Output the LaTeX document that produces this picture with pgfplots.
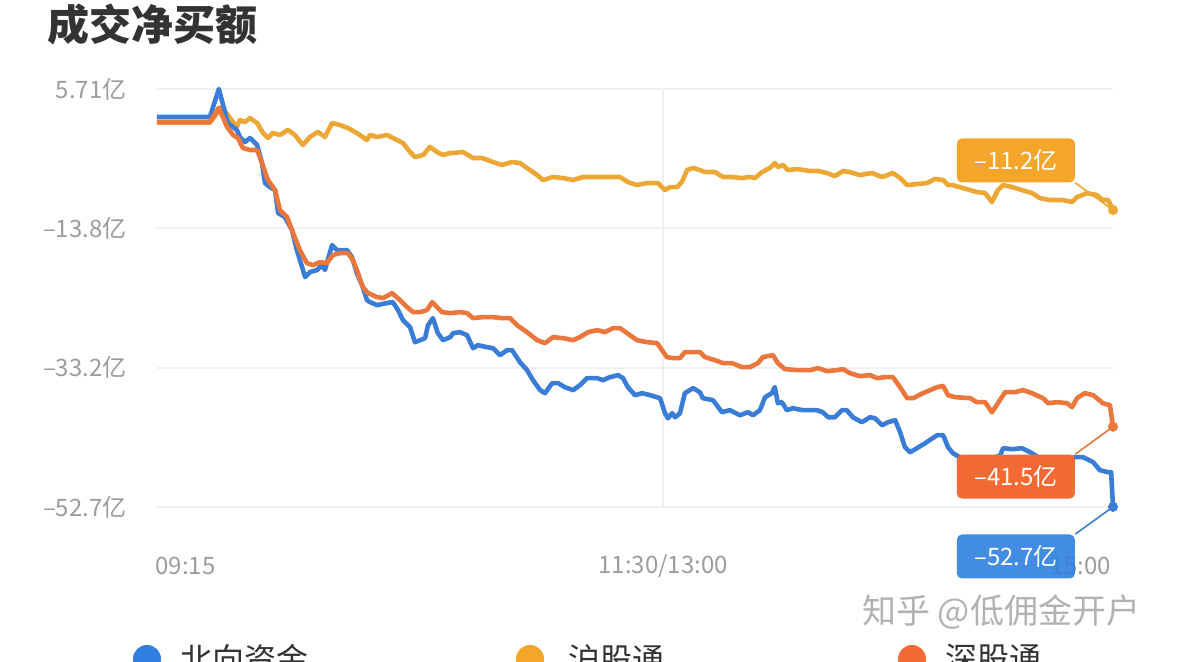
\documentclass[border=0pt]{standalone}
\usepackage{pgfplots}
\pgfplotsset{compat=1.18}
\usepackage{fontspec}
\setmainfont{Noto Sans CJK SC}

\definecolor{cblue}{HTML}{3A7DD6}
\definecolor{cgold}{HTML}{EDA735}
\definecolor{corange}{HTML}{EC773C}
\definecolor{bblue}{HTML}{2F7FE0}
\definecolor{bgold}{HTML}{F4A62A}
\definecolor{borange}{HTML}{F26B34}
\definecolor{tickgray}{HTML}{9C9C9C}
\definecolor{gridgray}{HTML}{F0F0F0}

\begin{document}
\begin{tikzpicture}
\useasboundingbox (0,0) rectangle (589.5pt,331pt);

% title
\node[anchor=west, inner sep=0pt, text=black!80, font=\fontsize{21}{21}\selectfont\bfseries]
  at (23.5pt,318.5pt) {成交净买额};

\begin{axis}[
    at={(78.5pt,77.5pt)}, anchor=south west,
    scale only axis,
    width=478pt, height=209pt,
    xmin=0, xmax=255,
    ymin=-52.72, ymax=5.71,
    clip=false,
    axis line style={draw=none},
    major tick length=0pt,
    ytick={5.71,-13.77,-33.24,-52.72},
    yticklabels={5.71亿,–13.8亿,–33.2亿,–52.7亿},
    yticklabel style={anchor=east, inner sep=0pt, xshift=-15pt, text=tickgray,
        font=\fontsize{12}{12}\selectfont},
    xtick={135}, xticklabels={},
    ymajorgrids, xmajorgrids,
    grid style={color=gridgray, line width=1pt},
]
% 沪股通
\addplot[cgold, line width=2.3pt, line join=round] coordinates {
(0,1.0) (14.1,1.0) (17.3,3.19) (19.5,1.65) (21.3,0.40) (22.1,1.37) (23.5,1.09)
(24.8,1.65) (26.7,0.95) (28.3,-0.44) (29.6,-1.14) (30.9,-0.44) (32.8,-0.72)
(34.9,-0.02) (36.8,-0.72) (38.9,-2.12) (40.8,-1.00) (42.9,-0.30) (44.8,-1.00)
(46.7,0.95) (48.8,0.67) (50.9,0.26) (53.3,-0.44) (56.0,-1.42) (56.8,-0.72)
(58.7,-1.00) (61.3,-0.72) (64.0,-1.42) (65.6,-1.84) (67.5,-3.10) (68.8,-3.80)
(71.0,-3.52) (72.8,-2.40) (74.7,-3.10) (76.3,-3.52) (78.2,-3.24) (79.0,-3.24)
(81.6,-3.10) (84.3,-3.94) (86.7,-3.94) (89.6,-4.50) (92.0,-4.92) (94.7,-4.50)
(96.8,-4.64) (99.5,-5.62) (101.4,-6.32) (103.0,-7.02) (105.6,-6.60) (108.3,-6.74)
(111.0,-7.02) (113.6,-6.60) (117.4,-6.60) (120.8,-6.60) (123.5,-6.60) (125.6,-7.30)
(128.0,-7.72) (130.7,-7.44) (133.6,-7.44) (135.5,-8.42) (136.8,-8.00) (138.7,-8.00)
(140.0,-7.30) (141.4,-5.62) (143.0,-5.34) (144.8,-5.62) (146.2,-5.90) (148.8,-5.90)
(151.0,-6.60) (153.4,-6.60) (156.0,-6.74) (158.2,-6.60) (159.5,-6.74) (161.4,-5.90)
(163.5,-5.34) (164.8,-4.64) (165.6,-5.20) (167.0,-4.92) (168.3,-5.62) (170.7,-5.48)
(174.2,-5.76) (176.3,-5.76) (178.7,-6.04) (180.8,-6.46) (183.0,-5.76) (184.8,-5.90)
(187.5,-6.32) (190.7,-6.04) (193.4,-6.60) (196.3,-6.04) (198.2,-6.74) (200.1,-7.72)
(202.7,-7.58) (205.4,-7.44) (207.5,-6.88) (209.7,-7.02) (211.0,-7.72) (212.1,-7.72)
(215.0,-8.14) (218.7,-8.70) (220.9,-8.84) (222.7,-10.09) (224.3,-8.42) (225.7,-7.72)
(228.1,-8.00) (230.7,-8.42) (233.4,-8.84) (235.5,-9.54) (238.2,-9.81) (241.4,-9.81)
(244.1,-10.09) (245.4,-9.40) (248.1,-8.84) (250.7,-9.12) (252.3,-9.81) (253.7,-9.81)
(255,-11.2)
};
% 北向资金
\addplot[cblue, line width=2.3pt, line join=round] coordinates {
(0,1.79) (14.1,1.79) (16.5,5.71) (18.9,0.95) (21.3,-0.02) (22.1,-1.00) (23.5,-1.70)
(24.8,-1.14) (26.7,-2.12) (28.0,-4.64) (28.8,-7.44) (30.1,-8.00) (31.5,-8.42)
(32.3,-11.63) (34.1,-12.19) (36.0,-14.01) (37.3,-16.81) (38.7,-19.19) (39.5,-20.58)
(40.8,-19.88) (42.7,-19.60) (44.0,-18.91) (44.8,-19.60) (46.7,-16.11) (48.0,-16.81)
(50.7,-16.81) (52.0,-17.79) (53.3,-20.02) (54.9,-21.98) (56.0,-23.80) (56.8,-24.08)
(58.7,-24.50) (61.3,-24.22) (62.9,-24.08) (64.3,-25.20) (65.6,-26.60) (67.5,-27.58)
(68.8,-29.68) (70.2,-29.40) (71.5,-29.12) (72.3,-27.30) (73.6,-26.32) (74.9,-28.42)
(76.3,-29.40) (78.2,-28.98) (79.0,-28.42) (80.8,-28.28) (82.7,-28.70) (84.3,-30.52)
(85.6,-30.10) (88.0,-30.38) (89.6,-30.52) (91.5,-31.49) (93.4,-30.79) (94.7,-30.79)
(96.8,-32.47) (98.7,-33.59) (100.3,-34.99) (102.2,-36.39) (103.5,-36.81) (105.4,-35.41)
(107.0,-35.41) (108.8,-35.97) (111.0,-36.39) (112.8,-35.69) (114.7,-34.71) (117.4,-34.71)
(119.0,-34.99) (120.8,-34.57) (123.0,-34.29) (124.3,-34.71) (125.6,-35.97) (127.5,-37.09)
(129.4,-36.81) (131.5,-37.09) (134.2,-37.51) (135.5,-39.61) (136.3,-40.31) (137.4,-39.61)
(138.2,-40.17) (139.5,-39.61) (140.8,-36.81) (143.0,-36.11) (144.8,-36.67) (145.6,-37.51)
(148.3,-37.79) (150.7,-39.47) (152.8,-39.19) (155.5,-39.89) (157.6,-39.47) (159.0,-39.89)
(160.8,-39.19) (162.2,-37.37) (164.0,-36.81) (164.8,-35.97) (165.6,-38.21) (166.7,-38.07)
(168.0,-39.19) (169.6,-38.91) (172.3,-39.19) (176.0,-39.19) (177.6,-39.47) (179.0,-40.17)
(180.8,-40.17) (182.7,-39.19) (184.0,-39.19) (185.6,-40.17) (188.0,-40.87) (190.2,-40.17)
(191.5,-40.31) (193.4,-41.29) (195.0,-40.87) (196.9,-40.59) (198.2,-42.26) (199.5,-44.36)
(200.9,-45.06) (202.7,-44.50) (204.9,-43.80) (208.1,-42.68) (209.7,-42.68) (211.0,-44.36)
(212.3,-45.20) (215.5,-46.20) (220.0,-46.50) (224.9,-45.50) (225.7,-44.50) (228.1,-44.64)
(230.7,-44.50) (232.9,-45.06) (235.5,-45.90) (240.1,-46.20) (244.9,-45.76) (247.0,-45.76)
(249.7,-46.46) (251.5,-47.58) (253.7,-47.86) (254.5,-47.86) (255,-52.7)
};
% 深股通
\addplot[corange, line width=2.3pt, line join=round] coordinates {
(0,1.09) (14.1,1.09) (16.5,3.10) (18.7,0.40) (20.3,-0.72) (21.6,-1.14) (22.9,-2.54)
(24.8,-2.82) (26.7,-2.82) (28.0,-4.64) (29.6,-7.02) (31.5,-8.42) (32.8,-11.21)
(34.7,-12.19) (36.3,-14.43) (38.1,-16.81) (40.0,-18.63) (41.6,-18.91) (43.5,-18.49)
(45.3,-18.63) (46.9,-17.51) (48.8,-17.23) (50.9,-17.23) (52.3,-18.21) (53.6,-20.02)
(54.9,-21.98) (56.3,-22.82) (58.7,-23.38) (60.3,-23.52) (62.7,-22.82) (64.8,-23.80)
(66.7,-24.78) (68.3,-25.48) (70.2,-25.48) (72.0,-25.20) (73.4,-24.08) (74.7,-24.78)
(76.0,-25.48) (78.2,-25.62) (80.8,-25.48) (82.7,-25.62) (84.3,-26.32) (87.0,-26.18)
(89.6,-26.18) (92.0,-26.32) (94.2,-26.32) (96.0,-27.30) (98.7,-28.28) (101.4,-29.40)
(103.5,-29.82) (105.6,-28.98) (108.3,-29.12) (111.0,-29.40) (112.8,-28.98) (115.0,-28.28)
(117.4,-28.00) (119.5,-28.28) (121.6,-27.72) (123.5,-27.72) (125.4,-28.42) (128.0,-29.40)
(130.7,-29.68) (133.4,-29.82) (134.7,-30.79) (136.0,-31.77) (137.6,-31.91) (139.5,-31.91)
(140.8,-31.07) (143.0,-31.07) (144.8,-31.07) (146.2,-31.77) (148.8,-32.19) (151.0,-32.61)
(153.4,-32.61) (156.0,-33.17) (158.2,-33.17) (160.3,-32.61) (161.6,-31.77) (164.3,-31.49)
(165.6,-32.61) (167.5,-33.45) (170.7,-33.59) (174.2,-33.59) (176.3,-33.31) (178.7,-33.73)
(181.4,-33.59) (183.0,-33.45) (184.8,-34.01) (187.5,-34.43) (190.2,-34.29) (192.1,-34.71)
(194.2,-34.57) (196.3,-34.57) (198.2,-35.97) (200.1,-37.51) (201.7,-37.51) (204.3,-36.81)
(208.1,-35.97) (209.7,-35.80) (211.0,-37.09) (212.9,-37.37) (216.9,-37.51) (218.7,-38.07)
(220.9,-38.07) (222.7,-39.47) (224.3,-38.21) (226.2,-36.67) (228.9,-36.67) (231.0,-36.39)
(233.4,-36.81) (236.3,-37.51) (237.7,-38.21) (240.1,-38.07) (242.7,-38.21) (244.1,-38.77)
(245.4,-37.51) (247.5,-36.81) (249.7,-37.09) (252.3,-38.21) (254.2,-38.49) (255,-41.5)
};
% end points
\addplot[only marks, mark=*, mark size=2.3pt, cgold] coordinates {(255,-11.2)};
\addplot[only marks, mark=*, mark size=2.3pt, corange] coordinates {(255,-41.5)};
\addplot[only marks, mark=*, mark size=2.3pt, cblue] coordinates {(255,-52.7)};

% x labels
\node[anchor=west, inner sep=0pt, text=tickgray, font=\fontsize{12}{12}\selectfont]
  at (axis cs:-0.5,-52.72) [yshift=-29.5pt] {09:15};
\node[anchor=center, inner sep=0pt, text=tickgray, font=\fontsize{12}{12}\selectfont]
  at (axis cs:135,-52.72) [yshift=-29.5pt] {11:30/13:00};
\node[anchor=east, inner sep=0pt, text=tickgray, font=\fontsize{12}{12}\selectfont]
  at (axis cs:254.5,-52.72) [yshift=-29.5pt] {15:00};

% end labels
\node[fill=bgold, rounded corners=2.5pt, minimum width=59pt, minimum height=22pt, inner sep=0pt,
  text=white, font=\fontsize{12}{12}\selectfont] (lg) at (axis cs:229.1,-4.28) {–11.2亿};
\draw[cgold, line width=0.8pt] (lg.south east) -- (axis cs:255,-11.2);
\node[fill=borange, rounded corners=2.5pt, minimum width=59pt, minimum height=22pt, inner sep=0pt,
  text=white, font=\fontsize{12}{12}\selectfont] (lo) at (axis cs:229.1,-48.46) {–41.5亿};
\draw[corange, line width=0.8pt] (lo.north east) -- (axis cs:255,-41.5);
\node[fill=bblue, fill opacity=0.9, text opacity=1, rounded corners=2.5pt, minimum width=59pt,
  minimum height=22pt, inner sep=0pt,
  text=white, font=\fontsize{12}{12}\selectfont] (lb) at (axis cs:229.1,-59.64) {–52.7亿};
\draw[cblue, line width=0.8pt] (lb.north east) -- (axis cs:255,-52.7);
\end{axis}

% watermark
\node[anchor=west, inner sep=0pt, text=black!30, font=\fontsize{17}{17}\selectfont]
  at (431pt,25pt) {知乎 @低佣金开户};

% legend (cut by the bottom edge)
\fill[bblue] (73.5pt,1.5pt) circle (7pt);
\node[anchor=west, inner sep=0pt, text=black!80, font=\fontsize{16}{16}\selectfont]
  at (90pt,1.5pt) {北向资金};
\fill[bgold] (265pt,1.5pt) circle (7pt);
\node[anchor=west, inner sep=0pt, text=black!80, font=\fontsize{16}{16}\selectfont]
  at (284pt,1.5pt) {沪股通};
\fill[borange] (456pt,1.5pt) circle (7pt);
\node[anchor=west, inner sep=0pt, text=black!80, font=\fontsize{16}{16}\selectfont]
  at (472.5pt,1.5pt) {深股通};
\end{tikzpicture}
\end{document}
